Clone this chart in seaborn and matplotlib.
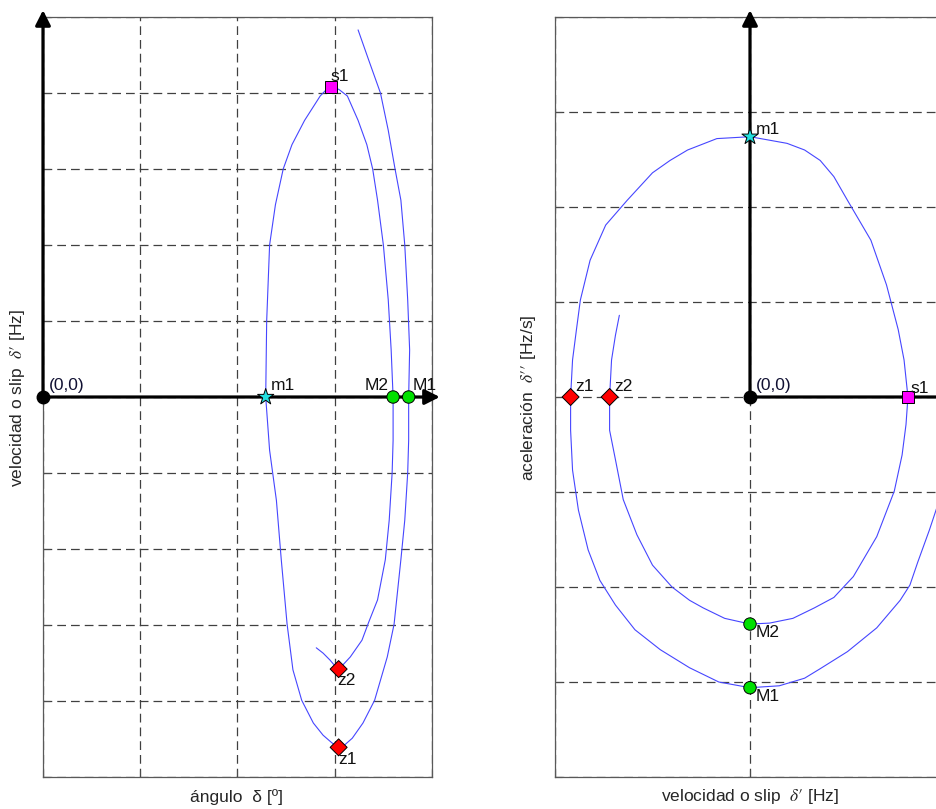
import matplotlib
matplotlib.use("Agg")
import matplotlib.pyplot as plt
import seaborn as sns

# trayectoria en el plano (angulo, slip) - unidades de rejilla
angulo = [3.24, 3.35, 3.47, 3.55, 3.62, 3.68, 3.72, 3.75, 3.77, 3.76,
          3.76, 3.75, 3.72, 3.68, 3.61, 3.54, 3.41, 3.29, 3.18, 3.10, 3.04,
          2.97, 2.88, 2.78, 2.66, 2.57, 2.51, 2.45, 2.40, 2.33, 2.29,
          2.30, 2.33, 2.39, 2.47, 2.56, 2.69, 2.85, 2.91, 2.96,
          3.01, 3.05, 3.13, 3.24, 3.33, 3.39, 3.44, 3.50, 3.55, 3.58, 3.60,
          3.60, 3.59, 3.56, 3.52, 3.44, 3.35, 3.28, 3.16, 3.08, 3.03,
          2.95, 2.88, 2.81]
slip_izq = [4.83, 4.43, 4.00, 3.51, 3.00, 2.59, 2.00, 1.28, 0.62, 0.00,
            -0.57, -1.00, -1.62, -2.14, -2.99, -3.42, -3.99, -4.29, -4.49, -4.58, -4.61,
            -4.55, -4.45, -4.29, -3.99, -3.59, -2.99, -2.14, -1.36, -0.70, 0.00,
            1.00, 2.00, 2.53, 3.00, 3.32, 3.64, 3.96, 4.04, 4.08,
            4.07, 4.04, 3.96, 3.64, 3.32, 3.00, 2.59, 2.00, 1.28, 0.62, 0.00,
            -0.57, -1.00, -1.62, -2.14, -2.67, -2.96, -3.20, -3.42, -3.53, -3.58,
            -3.46, -3.37, -3.30]

# trayectoria en el plano (slip, aceleracion)
slip_der = [0.98, 0.92, 0.86, 0.82, 0.77, 0.65, 0.50, 0.36, 0.28, 0.15, 0.00,
            -0.16, -0.31, -0.46, -0.59, -0.69, -0.77, -0.83, -0.88, -0.91, -0.92, -0.92,
            -0.91, -0.89, -0.87, -0.82, -0.74, -0.63, -0.50, -0.41, -0.32, -0.17, 0.00,
            0.19, 0.28, 0.36, 0.43, 0.50, 0.62, 0.70, 0.76, 0.79, 0.81,
            0.80, 0.78, 0.74, 0.65, 0.53, 0.43, 0.33, 0.22, 0.10, 0.00,
            -0.13, -0.24, -0.31, -0.40, -0.50, -0.58, -0.65, -0.69, -0.72, -0.72,
            -0.71, -0.69, -0.67]
acel = [-1.03, -1.40, -1.74, -1.98, -2.14, -2.43, -2.68, -2.86, -2.96, -3.04, -3.06,
        -3.00, -2.85, -2.66, -2.45, -2.19, -1.93, -1.61, -1.19, -0.77, -0.35, 0.00,
        0.39, 0.71, 1.02, 1.44, 1.81, 2.07, 2.36, 2.49, 2.60, 2.72, 2.74,
        2.67, 2.60, 2.49, 2.32, 2.07, 1.65, 1.18, 0.71, 0.39, 0.00,
        -0.29, -0.61, -0.99, -1.47, -1.89, -2.11, -2.22, -2.33, -2.38, -2.39,
        -2.33, -2.22, -2.14, -2.00, -1.77, -1.45, -1.08, -0.66, -0.35, 0.00,
        0.39, 0.65, 0.86]

# puntos singulares
pts_izq_nombre = ["s1", "m1", "M2", "M1", "z2", "z1"]
pts_izq_x = [2.96, 2.29, 3.60, 3.76, 3.04, 3.04]
pts_izq_y = [4.08, 0.00, 0.00, 0.00, -3.58, -4.61]

pts_der_nombre = ["m1", "z1", "z2", "s1", "M2", "M1"]
pts_der_x = [0.00, -0.92, -0.72, 0.81, 0.00, 0.00]
pts_der_y = [2.74, 0.00, 0.00, 0.00, -2.39, -3.06]

colores = {"s": "#ff00ff", "m": "#22e0e0", "M": "#00e000", "z": "#ff0000"}
marcas = {"s": "s", "m": "*", "M": "o", "z": "D"}
tamanos = {"s": 70, "m": 150, "M": 80, "z": 75}

# desplazamiento de etiquetas (pt) y alineacion
off_izq = {"s1": (0, 2, "left", "bottom"), "m1": (4, 3, "left", "bottom"),
           "M2": (-3, 3, "right", "bottom"), "M1": (3, 3, "left", "bottom"),
           "z2": (-1, -3, "left", "top"), "z1": (0, -3, "left", "top")}
off_der = {"m1": (4, 0, "left", "bottom"), "z1": (3, 2, "left", "bottom"),
           "z2": (3, 2, "left", "bottom"), "s1": (2, 1, "left", "bottom"),
           "M2": (4, -1, "left", "top"), "M1": (4, -1, "left", "top")}

FS = 12.5

sns.set_style("white")
plt.rcParams["font.family"] = ["Liberation Sans", "DejaVu Sans"]
plt.rcParams["mathtext.fontset"] = "stix"
plt.rcParams["font.size"] = FS

fig = plt.figure(figsize=(9.37, 8.09), dpi=100)
H = 809.0
W = 937.0
ax1 = fig.add_axes([43 / W, (H - 777) / H, 389 / W, 760 / H])
ax2 = fig.add_axes([555 / W, (H - 777) / H, 390 / W, 760 / H])


def panel(ax, xs, ys, nombres, px, py, offs, xlim, ylim, xt, yt, origen, extra_x):
    ax.set_xlim(xlim)
    ax.set_ylim(ylim)
    ax.set_xticks(xt)
    ax.set_yticks(yt)
    ax.set_xticklabels([])
    ax.set_yticklabels([])
    ax.tick_params(direction="in", length=5, width=0.8, color="0.3",
                   bottom=True, left=True, top=False, right=False)
    ax.set_axisbelow(True)
    ax.grid(True, color="0.25", lw=0.9, ls=(0, (7, 4)))
    for s in ax.spines.values():
        s.set_color("0.35")
        s.set_linewidth(0.9)

    sns.lineplot(x=xs, y=ys, sort=False, estimator=None, color="#4646ff",
                 lw=0.8, ax=ax, zorder=3)

    # ejes gruesos con flecha
    ox, oy = origen
    flecha = dict(arrowstyle="-|>,head_length=0.75,head_width=0.38",
                  lw=2.3, color="k", shrinkA=0, shrinkB=0, mutation_scale=12)
    ax.annotate("", xy=(ox, ylim[1] + 0.009 * (ylim[1] - ylim[0])), xytext=(ox, oy),
                arrowprops=flecha, annotation_clip=False, zorder=4)
    ax.annotate("", xy=(xlim[1] + extra_x * (xlim[1] - xlim[0]), oy), xytext=(ox, oy),
                arrowprops=flecha, annotation_clip=False, zorder=4)
    ax.plot([ox], [oy], "o", color="k", ms=9, clip_on=False, zorder=6)
    ax.annotate("(0,0)", (ox, oy), xytext=(4, 3), textcoords="offset points",
                ha="left", va="bottom", fontsize=FS, color="#111133")

    tipo = [n[0] for n in nombres]
    sns.scatterplot(x=px, y=py, hue=tipo, style=tipo, size=tipo,
                    palette=colores, markers=marcas, sizes=tamanos,
                    edgecolor="k", linewidth=0.7, legend=False, ax=ax,
                    zorder=7, clip_on=False)
    for n, x, y in zip(nombres, px, py):
        dx, dy, ha, va = offs[n]
        ax.annotate(n, (x, y), xytext=(dx, dy), textcoords="offset points",
                    ha=ha, va=va, fontsize=FS, color="#111111", zorder=8)
    ax.set_xlabel("")
    ax.set_ylabel("")


panel(ax1, angulo, slip_izq, pts_izq_nombre, pts_izq_x, pts_izq_y, off_izq,
      (0, 4), (-5, 5), [0, 1, 2, 3, 4], list(range(-5, 6)), (0, 0), 0.02)
panel(ax2, slip_der, acel, pts_der_nombre, pts_der_x, pts_der_y, off_der,
      (-1, 1), (-4, 4), [-1, 0, 1], list(range(-4, 5)), (0, 0), 0.15)

fig.text(237 / W, 1 - 797 / H, "ángulo  δ [º]", ha="center", va="center", fontsize=FS)
fig.text(18 / W, 1 - 398 / H, "velocidad o slip  $\\delta\\prime$ [Hz]", rotation=90,
         ha="center", va="center", fontsize=FS)
fig.text(750 / W, 1 - 797 / H, "velocidad o slip  $\\delta\\prime$ [Hz]", ha="center",
         va="center", fontsize=FS)
fig.text(529 / W, 1 - 398 / H, "aceleración  $\\delta\\prime\\prime$ [Hz/s]", rotation=90,
         ha="center", va="center", fontsize=FS)

fig.savefig("out.png", dpi=100)
